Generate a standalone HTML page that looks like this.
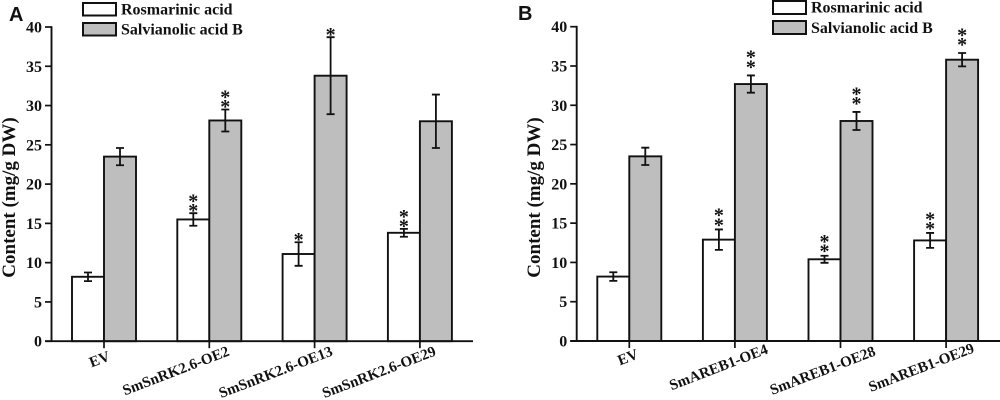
<!DOCTYPE html>
<html>
<head>
<meta charset="utf-8">
<title>Rosmarinic acid and salvianolic acid B content</title>
<style>
html,body{margin:0;padding:0;background:#fff;width:1000px;height:400px;overflow:hidden}
svg{display:block}
text{font-family:"Liberation Serif",serif;font-weight:bold;fill:#111}
.panel-letter{font-family:"Liberation Sans",sans-serif;font-size:20px}
.tick{font-size:16px}
.legend{font-size:16px}
.title{font-size:19px}
.cat{font-size:15px}
</style>
</head>
<body>
<svg id="chart" xmlns="http://www.w3.org/2000/svg" width="1000" height="400" viewBox="0 0 1000 400">
  <text class="panel-letter" x="9" y="21">A</text>
  <text class="panel-letter" x="518" y="20">B</text>

  <g>
    <rect x="83" y="3" width="33" height="12.5" fill="#fff" stroke="#111" stroke-width="2"/>
    <text class="legend" x="121" y="14.5">Rosmarinic acid</text>
    <rect x="83" y="23" width="33" height="12.5" fill="#bebebe" stroke="#111" stroke-width="2"/>
    <text class="legend" x="121" y="34.5">Salvianolic acid B</text>
  </g>
  <g>
    <rect x="773" y="1" width="33" height="13" fill="#fff" stroke="#111" stroke-width="2"/>
    <text class="legend" x="811" y="12.5">Rosmarinic acid</text>
    <rect x="773" y="21" width="33" height="13" fill="#bebebe" stroke="#111" stroke-width="2"/>
    <text class="legend" x="811" y="33">Salvianolic acid B</text>
  </g>

  <text class="title" text-anchor="middle" transform="translate(15,197.5) rotate(-90)">Content (mg/g DW)</text>
  <text class="title" text-anchor="middle" transform="translate(540,197.5) rotate(-90)">Content (mg/g DW)</text>
</svg>
<script>
var yTicks = [0, 5, 10, 15, 20, 25, 30, 35, 40];

var categoriesA = ["EV", "SmSnRK2.6-OE2", "SmSnRK2.6-OE13", "SmSnRK2.6-OE29"];
var rosmarinicA = [8.2, 15.5, 11.1, 13.8];
var rosmarinicErrA = [0.55, 0.8, 1.5, 0.5];
var rosmarinicStarsA = [0, 2, 1, 2];
var salvianolicA = [23.5, 28.1, 33.8, 28.0];
var salvianolicErrA = [1.1, 1.4, 4.9, 3.4];
var salvianolicStarsA = [0, 2, 1, 0];

var categoriesB = ["EV", "SmAREB1-OE4", "SmAREB1-OE28", "SmAREB1-OE29"];
var rosmarinicB = [8.2, 12.9, 10.4, 12.8];
var rosmarinicErrB = [0.55, 1.3, 0.45, 0.95];
var rosmarinicStarsB = [0, 2, 2, 2];
var salvianolicB = [23.5, 32.7, 28.0, 35.8];
var salvianolicErrB = [1.1, 1.1, 1.15, 0.85];
var salvianolicStarsB = [0, 2, 2, 2];

var NS = "http://www.w3.org/2000/svg";
var svg = document.getElementById("chart");
var INK = "#111";

function make(tag, attrs, parent) {
  var el = document.createElementNS(NS, tag);
  for (var k in attrs) el.setAttribute(k, attrs[k]);
  parent.appendChild(el);
  return el;
}

function drawPanel(p) {
  function y(v) { return p.y0 - (v / 40) * (p.y0 - p.y40); }
  function x(i) { return p.first + i * p.step; }

  var group = make("g", {}, svg);
  
  

  function bar(i, value, err, stars, offset, fill, key, starGap) {
    var left = x(i) + offset;
    var cx = left + p.barW / 2;
    var rect = make("rect", {x: left, y: y(value), width: p.barW, height: p.y0 - y(value), fill: fill, stroke: INK, "stroke-width": 1.9}, group);
    
    

    var top = y(value + err), bottom = y(value - err);
    var eb = make("path", {d: "M" + cx + " " + top + "V" + bottom + "M" + (cx - 4) + " " + top + "H" + (cx + 4) + "M" + (cx - 4) + " " + bottom + "H" + (cx + 4), fill: "none", stroke: INK, "stroke-width": 1.8}, group);
    
    

    for (var s = 0; s < stars; s++) {
      var centerY = top - starGap - s * 9.6;
      var star = make("text", {x: cx, y: centerY + 9.4, "text-anchor": "middle", style: "font-size:20px;font-weight:bold"}, group);
      star.textContent = "*";
      
      
    }
  }

  p.categories.forEach(function (c, i) {
    bar(i, p.ros[i], p.rosErr[i], p.rosStars[i], -p.barW, "#fff", "rosmarinic", p.rosGap);
    bar(i, p.sal[i], p.salErr[i], p.salStars[i], 0, "#bebebe", "salvianolic", p.salGap);
  });

  var yAxis = make("line", {x1: p.axisX, x2: p.axisX, y1: p.y40 - 0.8, y2: p.y0, stroke: INK, "stroke-width": 1.9}, group);
  
  

  var xAxis = make("line", {x1: p.axisX - 6.5, x2: p.xEnd, y1: p.y0, y2: p.y0, stroke: INK, "stroke-width": 1.9}, group);
  
  

  yTicks.forEach(function (t) {
    var tick = make("line", {x1: p.axisX - 6.5, x2: p.axisX, y1: y(t), y2: y(t), stroke: INK, "stroke-width": 1.7}, group);
    
    

    var label = make("text", {"class": "tick", x: p.axisX - 9.5, y: y(t) + 5.5, "text-anchor": "end"}, group);
    label.textContent = t;
    
    
  });

  p.categories.forEach(function (c, i) {
    var tick = make("line", {x1: x(i), x2: x(i), y1: p.y0, y2: p.y0 + 7, stroke: INK, "stroke-width": 1.7}, group);
    
    

    var ax = x(i) + p.labelDx[i], ay = p.labelY[i];
    var label = make("text", {"class": "cat", "text-anchor": "end", transform: "translate(" + ax + "," + ay + ") rotate(-21)"}, group);
    label.textContent = c;
    
    
  });
}

drawPanel({
  id: "a", axisX: 51.5, xEnd: 473, y0: 341.2, y40: 27, first: 104, step: 105.3, barW: 32,
  labelDx: [7, 21, 19, 17], labelY: [360, 355, 355, 355],
  categories: categoriesA, ros: rosmarinicA, rosErr: rosmarinicErrA, rosStars: rosmarinicStarsA,
  sal: salvianolicA, salErr: salvianolicErrA, salStars: salvianolicStarsA, rosGap: 5.7, salGap: 5.8
});
drawPanel({
  id: "b", axisX: 576.7, xEnd: 1000, y0: 341, y40: 26.7, first: 629.3, step: 105.6, barW: 32,
  labelDx: [10, 34, 36, 29], labelY: [358, 353, 355, 352],
  categories: categoriesB, ros: rosmarinicB, rosErr: rosmarinicErrB, rosStars: rosmarinicStarsB,
  sal: salvianolicB, salErr: salvianolicErrB, salStars: salvianolicStarsB, rosGap: 7.5, salGap: 11.5
});
</script>
</body>
</html>
